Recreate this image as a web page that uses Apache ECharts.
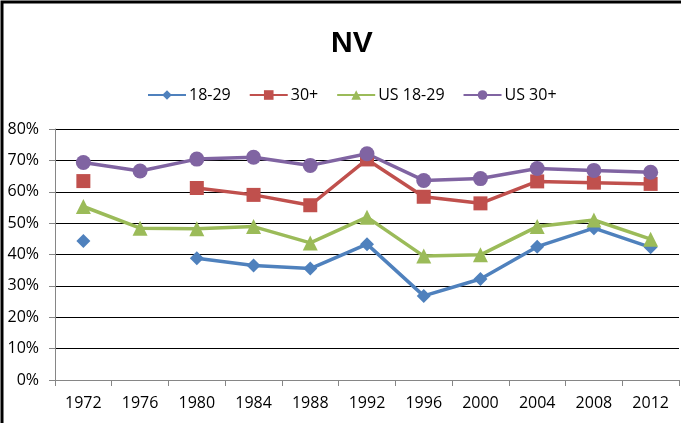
<!DOCTYPE html>
<html>
<head>
<meta charset="utf-8">
<script src="https://cdn.jsdelivr.net/npm/echarts@6/dist/echarts.min.js"></script>
<style>
  html, body { margin: 0; padding: 0; background: #fff; }
  #chart { width: 686px; height: 423px; }
</style>
</head>
<body>
<div id="chart"></div>
<script>
// 选举年份
const years = ['1972', '1976', '1980', '1984', '1988', '1992', '1996', '2000', '2004', '2008', '2012'];
// NV 投票率（%），1976 年 NV 无数据
const nv1829 = [44.3, null, 38.8, 36.5, 35.5, 43.3, 26.8, 32.2, 42.5, 48.4, 42.3];
const nv30 = [63.4, null, 61.2, 59.0, 55.7, 70.3, 58.4, 56.3, 63.3, 62.9, 62.5];
const us1829 = [55.3, 48.4, 48.2, 48.9, 43.7, 51.9, 39.5, 39.9, 48.9, 51.0, 44.9];
const us30 = [69.3, 66.6, 70.4, 71.0, 68.4, 72.1, 63.6, 64.2, 67.4, 66.8, 66.2];
const seriesNames = ['18-29', '30+', 'US 18-29', 'US 30+'];

let chartDom = document.getElementById('chart');
let myChart = echarts.init(chartDom);

const font = '"Open Sans", sans-serif';

function lineSeries(name, data, color, symbol, size) {
    return {
        name: name,
        type: 'line',
        data: data,
        symbol: symbol,
        symbolSize: size,
        connectNulls: false,
        lineStyle: { color: color, width: 3.5 },
        itemStyle: { color: color },
        emphasis: { disabled: true },
        animation: false
    };
}

let option = {
    backgroundColor: '#fff',
    title: {
        text: 'NV',
        left: 326,
        top: 24,
        textStyle: { fontFamily: '"Liberation Sans", sans-serif', fontWeight: 'bold', fontSize: 30, color: '#000' }
    },
    legend: {
        top: 82,
        left: 142,
        itemWidth: 38,
        itemHeight: 12,
        itemGap: 18,
        textStyle: { fontFamily: font, fontSize: 16, color: '#000', padding: [0, 0, 0, -2] },
        data: seriesNames
    },
    grid: { left: 55, right: 7, top: 129, bottom: 43 },
    xAxis: {
        type: 'category',
        data: years,
        boundaryGap: true,
        axisLine: { lineStyle: { color: '#868686', width: 1 } },
        axisTick: { show: true, length: 6, lineStyle: { color: '#868686' } },
        axisLabel: { fontFamily: font, fontSize: 16, color: '#000', margin: 15 }
    },
    yAxis: {
        type: 'value',
        min: 0,
        max: 80,
        interval: 10,
        axisLine: { show: true, lineStyle: { color: '#868686', width: 1 } },
        axisTick: { show: true, length: 6, lineStyle: { color: '#868686' } },
        axisLabel: { fontFamily: font, fontSize: 16, color: '#000', margin: 16, formatter: '{value}%' },
        splitLine: { lineStyle: { color: '#000', width: 1 } }
    },
    graphic: [{
        type: 'polyline',
        shape: { points: [[2, 423], [2, 2], [681, 2]] },
        style: { stroke: '#000', lineWidth: 3, fill: null }
    }],
    series: [
        lineSeries('18-29', nv1829, '#4F81BD', 'diamond', 14),
        lineSeries('30+', nv30, '#C0504D', 'rect', 14),
        lineSeries('US 18-29', us1829, '#9BBB59', 'triangle', 15),
        lineSeries('US 30+', us30, '#8064A2', 'circle', 15)
    ]
};
option && myChart.setOption(option);
</script>
</body>
</html>
